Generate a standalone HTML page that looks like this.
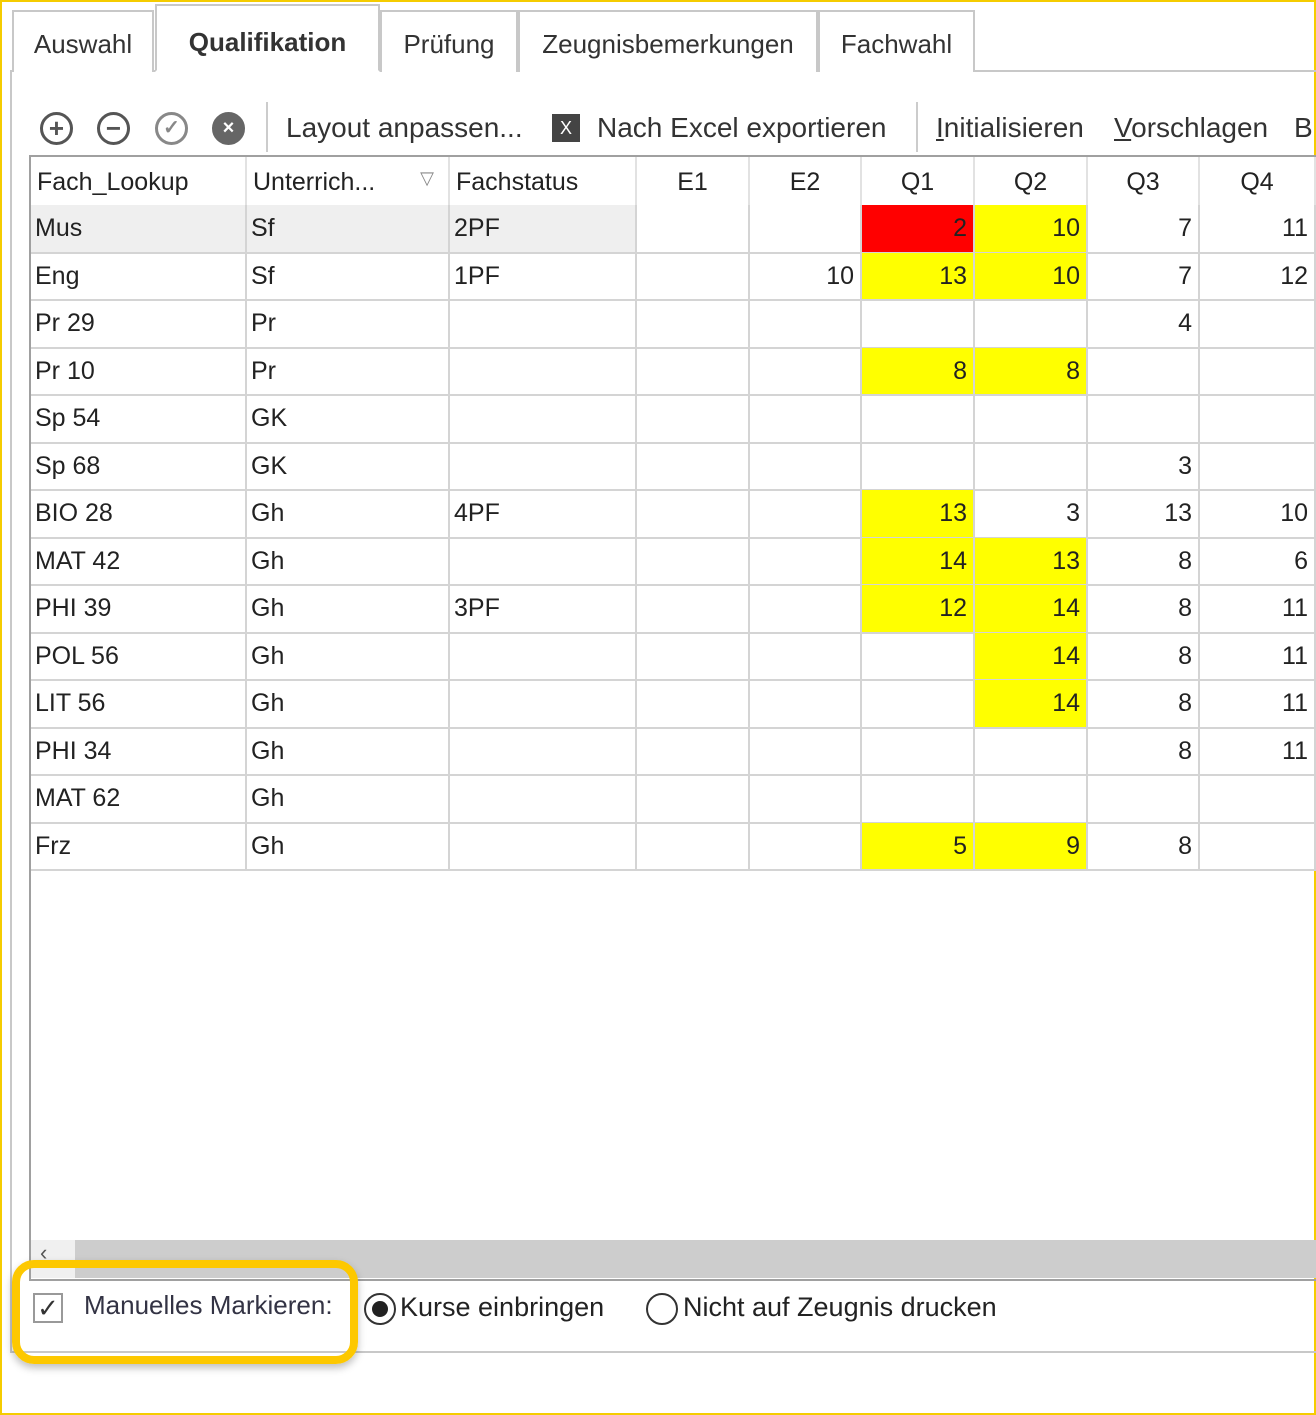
<!DOCTYPE html>
<html><head><meta charset="utf-8"><style>
*{box-sizing:border-box;margin:0;padding:0}
body{width:1316px;height:1415px;position:relative;background:#fff;font-family:"Liberation Sans",sans-serif;color:#222;overflow:hidden}
.abs{position:absolute}
.tab{position:absolute;top:10px;height:62px;border:2px solid #c8c8c8;border-bottom:none;background:#fff;font-size:26px;color:#333;text-align:center;line-height:64px}
.cell{position:absolute;font-size:25px;line-height:47px;white-space:nowrap;overflow:hidden;border-right:2px solid #d4d4d4;border-bottom:2px solid #d4d4d4}
.hdr{position:absolute;top:157px;height:48px;font-size:25px;line-height:50px;border-right:2px solid #e2e2e2;white-space:nowrap}
.tb{position:absolute;top:108px;font-size:28px;color:#333;line-height:40px}
.ic{position:absolute;top:112px;width:33px;height:33px;border-radius:50%;border:3px solid #555;font-size:26px;line-height:26px;text-align:center;color:#555;font-weight:bold}
</style></head><body>
<div class="abs" style="left:0;top:0;width:1316px;height:1415px;border:2px solid #f5cc00"></div>
<div class="abs" style="left:10px;top:70px;width:1310px;height:1283px;border:2px solid #c8c8c8;border-right:none"></div>
<div class="tab" style="left:12px;width:142px">Auswahl</div>
<div class="tab" style="left:155px;top:4px;height:68px;width:225px;font-weight:bold;line-height:72px;border-bottom:2px solid #fff">Qualifikation</div>
<div class="tab" style="left:380px;width:138px">Prüfung</div>
<div class="tab" style="left:518px;width:300px">Zeugnisbemerkungen</div>
<div class="tab" style="left:818px;width:157px">Fachwahl</div>

<div class="ic" style="left:40px">+</div>
<div class="ic" style="left:97px">−</div>
<div class="ic" style="left:155px;border-color:#888;color:#888;font-size:20px">✓</div>
<div class="ic" style="left:212px;background:#666;border-color:#666;color:#fff;font-size:20px">×</div>
<div class="abs" style="left:266px;top:102px;width:2px;height:50px;background:#ccc"></div>
<div class="tb" style="left:286px">Layout anpassen...</div>
<div class="abs" style="left:552px;top:114px;width:28px;height:28px;background:#444;color:#fff;font-size:18px;text-align:center;line-height:28px">X</div>
<div class="tb" style="left:597px">Nach Excel exportieren</div>
<div class="abs" style="left:916px;top:102px;width:2px;height:50px;background:#ccc"></div>
<div class="tb" style="left:936px"><u>I</u>nitialisieren</div>
<div class="tb" style="left:1114px"><u>V</u>orschlagen</div>
<div class="tb" style="left:1294px">B</div>

<div class="abs" style="left:29px;top:155px;width:1300px;height:1126px;border:2px solid #a0a0a0"></div>
<div id="grid"></div>
<div class="abs" style="left:31px;top:1240px;width:1290px;height:38px;background:#f0f0f0"></div>
<div class="abs" style="left:75px;top:1240px;width:1250px;height:38px;background:#cdcdcd"></div>
<div class="abs" style="left:40px;top:1240px;font-size:22px;color:#555">‹</div>

<div class="abs" style="left:12px;top:1260px;width:346px;height:104px;border:8px solid #fdc800;border-radius:22px;box-shadow:0 4px 8px rgba(0,0,0,.25)"></div>
<div class="abs" style="left:33px;top:1293px;width:30px;height:30px;border:2px solid #999;font-size:26px;line-height:26px;text-align:center;color:#333">✓</div>
<div class="abs" style="left:84px;top:1290px;font-size:26px;color:#334">Manuelles Markieren:</div>
<div class="abs" style="left:364px;top:1293px;width:32px;height:32px;border:2px solid #333;border-radius:50%"><div style="margin:6px;width:16px;height:16px;border-radius:50%;background:#222"></div></div>
<div class="abs" style="left:400px;top:1292px;font-size:27px">Kurse einbringen</div>
<div class="abs" style="left:646px;top:1293px;width:32px;height:32px;border:2px solid #333;border-radius:50%"></div>
<div class="abs" style="left:683px;top:1292px;font-size:27px">Nicht auf Zeugnis drucken</div>

<script>
const headers=["Fach_Lookup","Unterrich...","Fachstatus","E1","E2","Q1","Q2","Q3","Q4"];
const fach=["Mus","Eng","Pr 29","Pr 10","Sp 54","Sp 68","BIO 28","MAT 42","PHI 39","POL 56","LIT 56","PHI 34","MAT 62","Frz"];
const unterricht=["Sf","Sf","Pr","Pr","GK","GK","Gh","Gh","Gh","Gh","Gh","Gh","Gh","Gh"];
const status=["2PF","1PF","","","","","4PF","","3PF","","","","",""];
const e1=["","","","","","","","","","","","","",""];
const e2=["","10","","","","","","","","","","","",""];
const q1=["2","13","","8","","","13","14","12","","","","","5"];
const q2=["10","10","","8","","","3","13","14","14","14","","","9"];
const q3=["7","7","4","","","3","13","8","8","8","8","8","","8"];
const q4=["11","12","","","","","10","6","11","11","11","11","",""];
const q1Color=["red","yellow","","yellow","","","yellow","yellow","yellow","","","","","yellow"];
const q2Color=["yellow","yellow","","yellow","","","","yellow","yellow","yellow","yellow","","","yellow"];
const colX=[31,247,450,637,750,862,975,1088,1200,1316];
const rowTop=205,rowH=47.5;
const g=document.getElementById('grid');
headers.forEach((h,i)=>{
  const d=document.createElement('div');d.className='hdr';
  
  
  d.style.left=colX[i]+'px';d.style.width=(colX[i+1]-colX[i])+'px';
  d.style.paddingLeft=i<3?'6px':'0';d.style.textAlign=i<3?'left':'center';
  d.textContent=h;
  if(i==1){const f=document.createElement('span');f.textContent='▽';f.style.cssText='position:absolute;right:14px;top:-4px;font-size:18px;color:#888';d.appendChild(f);}
  g.appendChild(d);
});
const cols=[fach,unterricht,status,e1,e2,q1,q2,q3,q4];
fach.forEach((_,r)=>{
  cols.forEach((arr,c)=>{
    const d=document.createElement('div');d.className='cell';
    
    
    d.style.left=colX[c]+'px';d.style.width=(colX[c+1]-colX[c])+'px';
    d.style.top=(rowTop+r*rowH)+'px';d.style.height=(rowH+1)+'px';
    if(c<3){d.style.paddingLeft='4px';}else{d.style.textAlign='right';d.style.paddingRight='6px';}
    let bg='';
    if(c==5&&q1Color[r])bg=q1Color[r]=='red'?'#ff0000':'#ffff00';
    if(c==6&&q2Color[r])bg='#ffff00';
    if(!bg&&r==0&&c<3)bg='#efefef';
    if(bg)d.style.background=bg;
    d.textContent=arr[r];
    g.appendChild(d);
  });
});
</script>
</body></html>
